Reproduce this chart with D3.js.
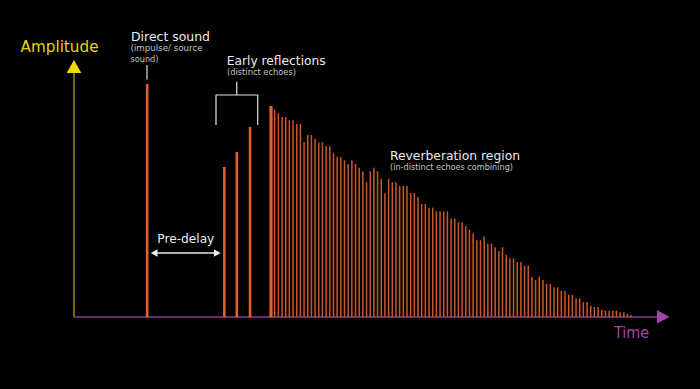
<!DOCTYPE html>
<html><head><meta charset="utf-8">
<script src="https://cdn.jsdelivr.net/npm/d3@7/dist/d3.min.js"></script>
<style>html,body{margin:0;padding:0;background:#000;}svg{display:block;}</style>
</head><body>
<script>
// ---- data ----
const directTimes = [20.3];
const directAmps = [233];
const earlyTimes = [41.3, 44.7, 48.3];
const earlyAmps = [150, 165, 190];
const reverbTimes = [54,55,56,57,58,59,60,61,62,63,64,65,66,67,68,69,70,71,72,73,74,75,76,77,78,79,80,81,82,83,84,85,86,87,88,89,90,91,92,93,94,95,96,97,98,99,100,101,102,103,104,105,106,107,108,109,110,111,112,113,114,115,116,117,118,119,120,121,122,123,124,125,126,127,128,129,130,131,132,133,134,135,136,137,138,139,140,141,142,143,144,145,146,147,148,149,150,151,152];
const reverbAmps = [211,207.3,203.7,200,200,196.7,196.7,193,193,175,182,182,178.3,174.7,174.7,171,171,164,160.3,160,156.7,153,156.7,153,149.3,145.7,134.7,145.7,149.3,145.7,138.3,123.7,138.3,134.7,134.7,131,131,131,124,124,120.3,113,113,109.3,109.3,105.7,105.7,105.7,105.7,98.3,98.3,94.7,94.7,91,87.3,83.7,76.7,76.7,80.5,73.3,73.3,69.7,66,69.7,62.3,58.7,58.7,55,55,51.3,51.3,40.3,37,40.3,37,33.3,33.3,29.7,29.7,26,26,22.3,22.3,18.7,18.7,15,15,11.3,10,10,7.3,6.3,6.3,6.3,6.3,4.7,4.7,3,2];
const axisLabels = ["Amplitude", "Time"];

// ---- layout ----
const W = 700, H = 389;
const svg = d3.select("body").append("svg").attr("width", W).attr("height", H);
svg.append("rect").attr("width", W).attr("height", H).attr("fill", "#000");

const x = d3.scaleLinear().domain([0, 160]).range([72.55, 660.55]);
const y = d3.scaleLinear().domain([0, 255]).range([317, 62]);
const orange = "#e2622c";
const FONT = "'DejaVu Sans', sans-serif";

// axes
svg.append("line").attr("x1", 74).attr("x2", 74).attr("y1", y(0)).attr("y2", 72)
  .attr("stroke", "#9a8a10").attr("stroke-width", 1.5);
svg.append("path").attr("d", "M74,60 L81.3,73 L66.7,73 Z").attr("fill", "#f5d800");
svg.append("line").attr("x1", 74).attr("x2", 658).attr("y1", y(0)).attr("y2", y(0))
  .attr("stroke", "#8c3a8c").attr("stroke-width", 1.6);
svg.append("path").attr("d", "M657,310 L669.5,317 L657,323.6 Z").attr("fill", "#a343a8");

// bars
function bars(times, amps, w, fill) {
  svg.append("g").selectAll("rect").data(times.map((t, i) => ({t, v: amps[i], i})))
    .join("rect")
    .attr("x", d => x(d.t) - w(d) / 2)
    .attr("width", d => w(d))
    .attr("y", d => y(d.v))
    .attr("height", d => y(0) - y(d.v))
    .attr("fill", d => fill(d));
}
bars(directTimes, directAmps, () => 2.6, () => orange);
bars(earlyTimes, earlyAmps, () => 2.6, () => orange);
bars(reverbTimes, reverbAmps, d => d.i === 0 ? 3.2 : 1.5, d => d.i === 0 ? orange : "#c9582c");

// texts
function txt(s, xx, yy, size, fill, len) {
  const t = svg.append("text").attr("x", xx).attr("y", yy).text(s)
    .attr("font-family", FONT).attr("font-size", size).attr("fill", fill);
  if (len) t.attr("textLength", len).attr("lengthAdjust", "spacingAndGlyphs");
  return t;
}
txt(axisLabels[0], 20.5, 52, 15, "#ead400", 78);
txt(axisLabels[1], 614, 338, 15, "#a343a8", 35);

txt("Direct sound", 131, 41, 13, "#ececec", 79);
txt("(impulse/ source", 130.5, 51, 9, "#c4c4c4", 72);
txt("sound)", 130.5, 61.5, 9, "#c4c4c4", 28);
svg.append("line").attr("x1", 147).attr("x2", 147).attr("y1", 65).attr("y2", 79.5)
  .attr("stroke", "#e0e0e0").attr("stroke-width", 1.2);

txt("Early reflections", 226.7, 64.5, 13, "#ececec", 99);
txt("(distinct echoes)", 227, 75, 9, "#c4c4c4", 69);
svg.append("path").attr("d", "M236.8,81.7 V95 M216,125 V95 H257.7 V125")
  .attr("fill", "none").attr("stroke", "#e0e0e0").attr("stroke-width", 1.2);

txt("Reverberation region", 390, 159.5, 13, "#ececec", 130);
txt("(in-distinct echoes combining)", 390, 169.5, 9, "#c4c4c4", 123);

txt("Pre-delay", 157.3, 242.5, 13, "#ececec", 57);
svg.append("line").attr("x1", 155).attr("x2", 216).attr("y1", 253).attr("y2", 253)
  .attr("stroke", "#e6e6e6").attr("stroke-width", 1.3);
svg.append("path").attr("d", "M150.7,253 L157.5,249.3 L157.5,256.7 Z M220.7,253 L213.9,249.3 L213.9,256.7 Z")
  .attr("fill", "#f0f0f0");
</script>
</body></html>
